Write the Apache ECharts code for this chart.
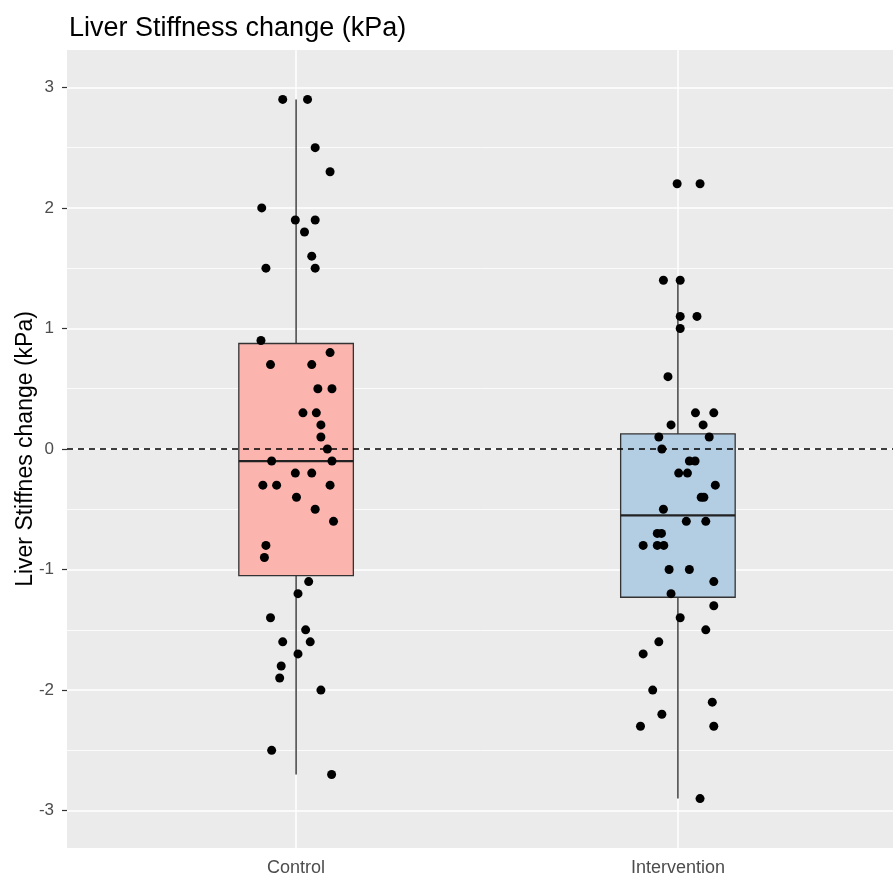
<!DOCTYPE html>
<html lang="en">
<head>
  <meta charset="UTF-8">
  <title>Liver Stiffness change</title>
  <style>
    html, body { margin: 0; padding: 0; background: #fff; }
    #chart { width: 893px; height: 877px; }
  </style>
</head>
<body>
  <div id="chart"></div>
  <script src="https://cdn.jsdelivr.net/npm/echarts@6/dist/echarts.min.js"></script>
  <script>
    // groups on the x axis
    const categories = ['Control', 'Intervention']
    const yTicks = [-3, -2, -1, 0, 1, 2, 3]

    // box stats: [min, Q1, median, Q3, max]
    const controlBox = [-2.7, -1.05, -0.1, 0.875, 2.9]
    const interventionBox = [-2.9, -1.23, -0.55, 0.125, 1.4]

    // individual points (y value) and their horizontal jitter in group units
    const controlY = [2.9, 2.9, 2.5, 2.3, 2.0, 1.9, 1.9, 1.8, 1.6, 1.5, 1.5,
      0.9, 0.8, 0.7, 0.7, 0.5, 0.5, 0.3, 0.3, 0.2, 0.1, 0.0, -0.1, -0.1,
      -0.2, -0.2, -0.3, -0.3, -0.3, -0.4, -0.5, -0.6, -0.8, -0.9,
      -1.1, -1.2, -1.4, -1.5, -1.6, -1.6, -1.7, -1.8, -1.9, -2.0, -2.5, -2.7]
    const controlJitter = [-0.035, 0.030, 0.050, 0.089, -0.090, -0.002, 0.050, 0.022, 0.041, -0.079, 0.050,
      -0.092, 0.089, -0.067, 0.041, 0.057, 0.094, 0.018, 0.053, 0.065, 0.065, 0.082, -0.064, 0.094,
      -0.002, 0.041, -0.087, -0.051, 0.089, 0.001, 0.050, 0.098, -0.079, -0.083,
      0.033, 0.005, -0.067, 0.025, -0.035, 0.037, 0.005, -0.039, -0.043, 0.065, -0.064, 0.093]

    const interventionY = [2.2, 2.2, 1.4, 1.4, 1.1, 1.1, 1.0, 0.6, 0.3, 0.3, 0.2, 0.2,
      0.1, 0.1, 0.0, -0.1, -0.1, -0.2, -0.2, -0.3, -0.4, -0.4, -0.5,
      -0.6, -0.6, -0.7, -0.7, -0.8, -0.8, -0.8, -1.0, -1.0, -1.1, -1.2, -1.3, -1.4,
      -1.5, -1.6, -1.7, -2.0, -2.1, -2.2, -2.3, -2.3, -2.9]
    const interventionJitter = [-0.002, 0.058, -0.038, 0.006, 0.006, 0.050, 0.006, -0.026, 0.046, 0.094, -0.018, 0.066,
      -0.050, 0.082, -0.042, 0.030, 0.045, 0.002, 0.025, 0.098, 0.061, 0.068, -0.038,
      0.022, 0.073, -0.054, -0.043, -0.091, -0.054, -0.037, -0.023, 0.030, 0.094, -0.018, 0.094, 0.006,
      0.073, -0.050, -0.091, -0.066, 0.090, -0.042, -0.098, 0.094, 0.058]

    const boxColors = ['#FBB4AE', '#B3CDE3']
    const BOX_HALF = 0.15

    const boxData = [controlBox, interventionBox].map((b, i) => [i + 1, ...b, i])
    const points = []
    controlY.forEach((y, i) => points.push([1 + controlJitter[i], y]))
    interventionY.forEach((y, i) => points.push([2 + interventionJitter[i], y]))

    const chart = echarts.init(document.getElementById('chart'))

    const option = {
      animation: false,
      backgroundColor: '#fff',
      title: {
        text: 'Liver Stiffness change (kPa)',
        left: 64,
        top: 10,
        textStyle: { fontFamily: 'Liberation Sans', fontWeight: 'normal', fontSize: 27, color: '#000' }
      },
      grid: {
        left: 67, top: 50, right: -14, bottom: 29,
        outerBoundsMode: 'none', containLabel: false,
        show: true, backgroundColor: '#EBEBEB', borderWidth: 0
      },
      xAxis: {
        type: 'value',
        min: 0.4,
        max: 2.6,
        axisLine: { show: false },
        axisTick: { show: true, customValues: [1, 2], length: 5, lineStyle: { color: '#333', width: 1.2 } },
        axisLabel: {
          customValues: [1, 2],
          formatter: v => categories[Math.round(v) - 1],
          margin: 11,
          fontFamily: 'Liberation Sans',
          fontSize: 18,
          color: '#4D4D4D'
        },
        splitLine: { show: true, lineStyle: { color: '#fff', width: 1.5 } }
      },
      yAxis: {
        type: 'value',
        min: -3.31,
        max: 3.31,
        name: 'Liver Stiffnes change (kPa)',
        nameLocation: 'middle',
        nameRotate: 90,
        nameGap: 30,
        nameMoveOverlap: false,
        nameTextStyle: { fontFamily: 'Liberation Sans', fontSize: 23, color: '#000' },
        axisLine: { show: false },
        axisTick: { show: true, customValues: yTicks, length: 5, lineStyle: { color: '#333', width: 1.2 } },
        axisLabel: {
          customValues: yTicks,
          margin: 13,
          fontFamily: 'Liberation Sans',
          fontSize: 17,
          color: '#4D4D4D'
        },
        splitLine: { show: true, lineStyle: { color: '#fff', width: 1.5 } },
        minorTick: { show: false, splitNumber: 2 },
        minorSplitLine: { show: true, lineStyle: { color: '#fff', width: 0.8 } }
      },
      series: [
        {
          type: 'custom',
          z: 2,
          data: boxData,
          encode: { x: 0, y: [1, 2, 3, 4, 5] },
          renderItem: (params, api) => {
            const x = api.value(0)
            const mn = api.value(1), q1 = api.value(2), md = api.value(3), q3 = api.value(4), mx = api.value(5)
            const idx = api.value(6)
            const top = api.coord([x, mx]), upper = api.coord([x, q3])
            const lower = api.coord([x, q1]), bottom = api.coord([x, mn])
            const tl = api.coord([x - BOX_HALF, q3]), br = api.coord([x + BOX_HALF, q1])
            const ml = api.coord([x - BOX_HALF, md]), mr = api.coord([x + BOX_HALF, md])
            const lineStyle = { stroke: '#333', lineWidth: 1.4 }
            return {
              type: 'group',
              children: [
                { type: 'line', shape: { x1: top[0], y1: top[1], x2: upper[0], y2: upper[1] }, style: lineStyle },
                { type: 'line', shape: { x1: lower[0], y1: lower[1], x2: bottom[0], y2: bottom[1] }, style: lineStyle },
                {
                  type: 'rect',
                  shape: { x: tl[0], y: tl[1], width: br[0] - tl[0], height: br[1] - tl[1] },
                  style: { fill: boxColors[idx], stroke: '#333', lineWidth: 1.3 }
                },
                { type: 'line', shape: { x1: ml[0], y1: ml[1], x2: mr[0], y2: mr[1] }, style: { stroke: '#222', lineWidth: 2.2 } }
              ]
            }
          }
        },
        {
          type: 'line',
          z: 3,
          data: [],
          markLine: {
            silent: true,
            symbol: 'none',
            label: { show: false },
            lineStyle: { color: '#000', width: 1.5, type: [6, 5] },
            data: [{ yAxis: 0 }]
          }
        },
        {
          type: 'scatter',
          z: 4,
          data: points,
          symbolSize: 9,
          itemStyle: { color: '#000', opacity: 1 }
        }
      ]
    }

    chart.setOption(option)
  </script>
</body>
</html>
